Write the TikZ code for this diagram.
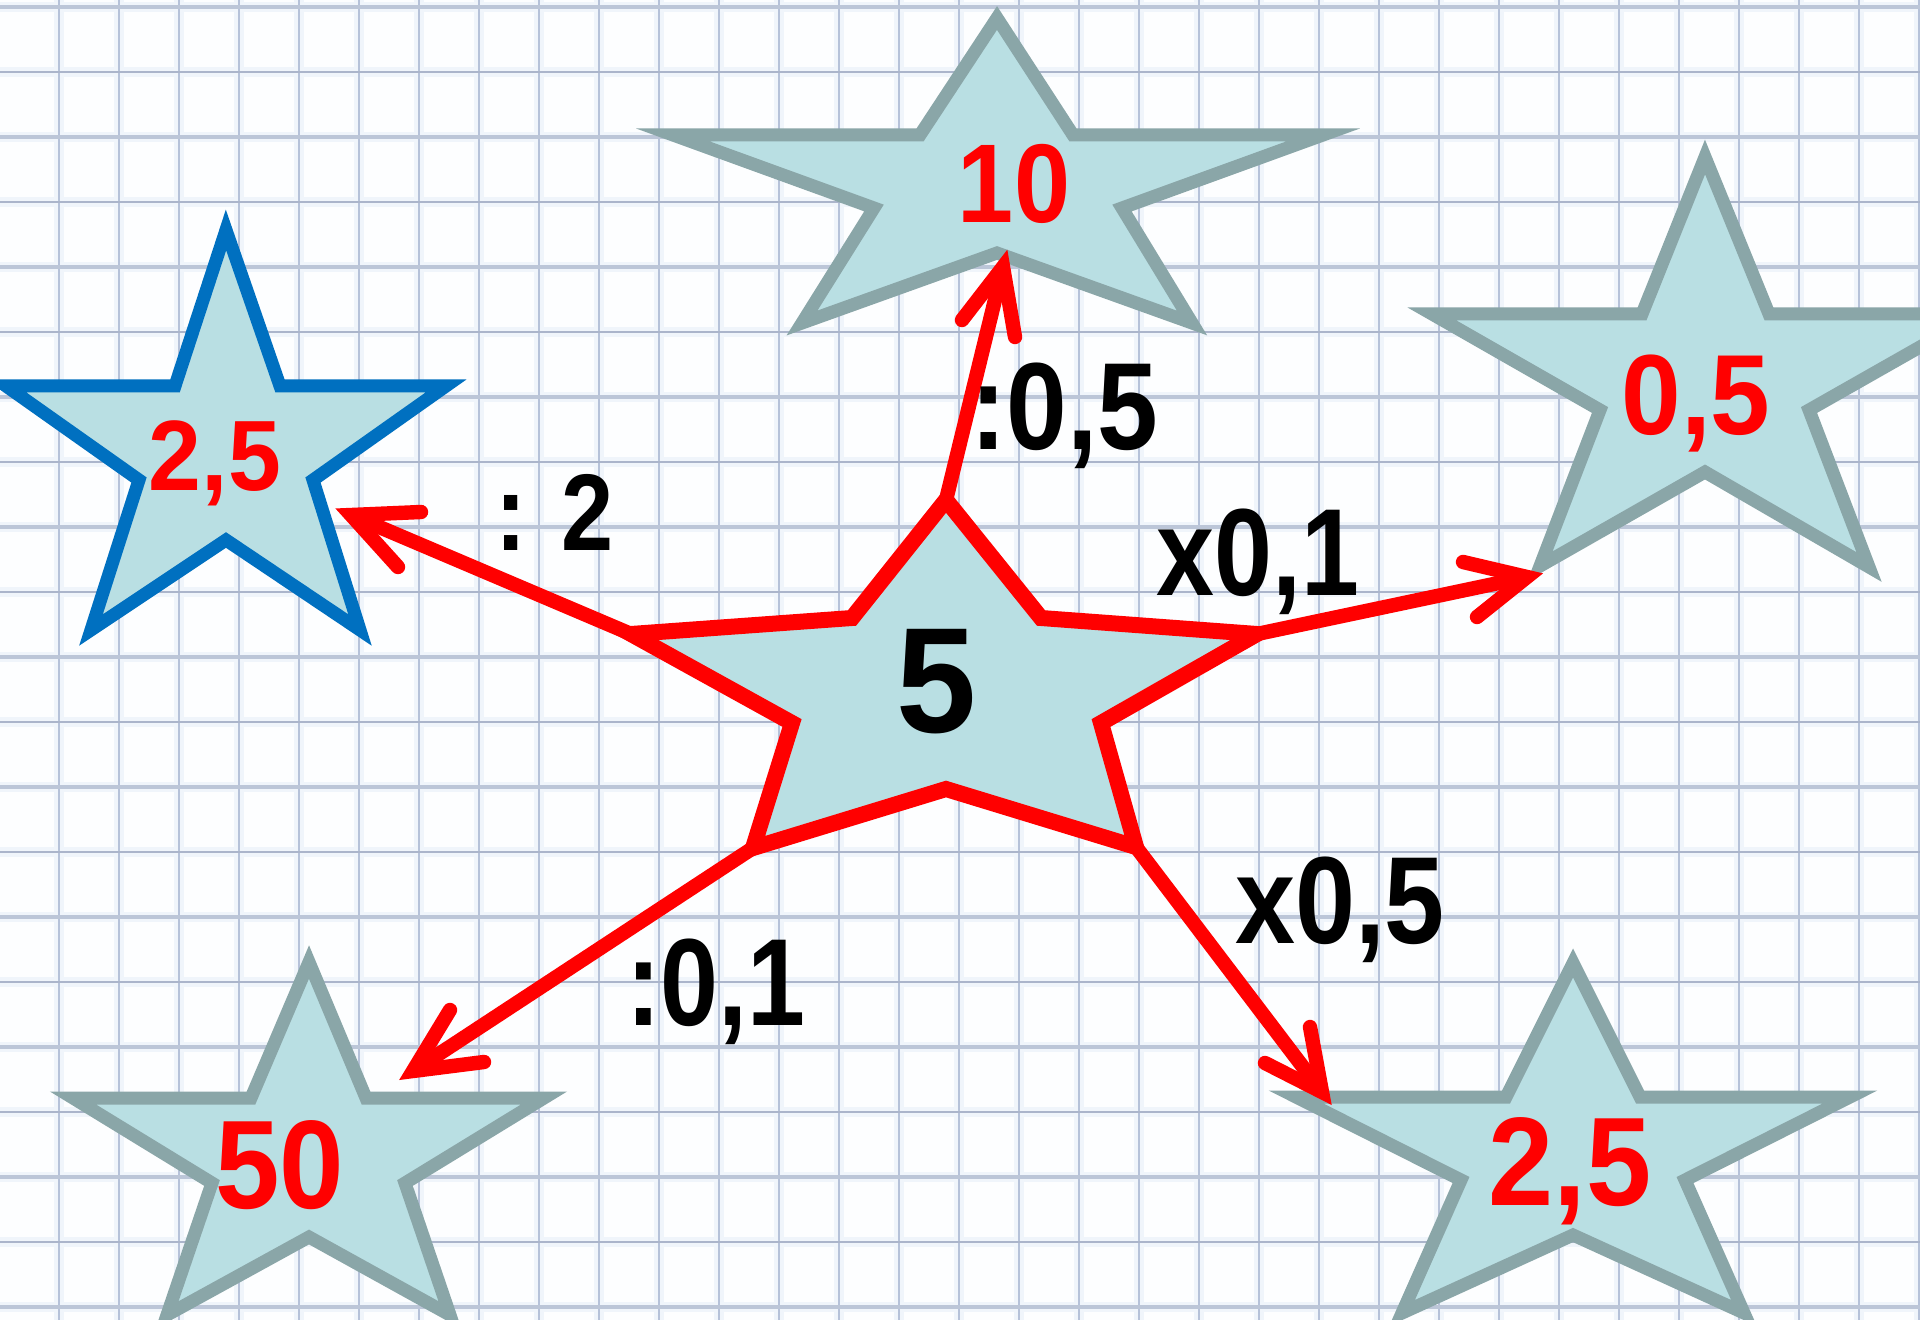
\documentclass[tikz,border=0pt]{standalone}
\usepackage{fontspec}
\setmainfont{Liberation Sans}
\definecolor{starfill}{HTML}{B9DFE3}
\definecolor{stargray}{HTML}{8AA6A8}
\definecolor{starblue}{HTML}{0070C0}
\definecolor{gridv}{HTML}{B6C2D9}
\definecolor{gridh}{HTML}{ABB5CB}
\definecolor{gridhk}{HTML}{BCC6D8}
\definecolor{gridhalo}{HTML}{F0F5FB}
\definecolor{paper}{HTML}{FDFEFF}
\newcommand{\sqz}[2]{\scalebox{#1}[1]{#2}}
\begin{document}
\begin{tikzpicture}[x=0.5pt,y=-0.5pt,
  gv/.style={draw=gridv,line width=1.1pt},
  ghthin/.style={draw=gridh,line width=1.1pt},
  ghthick/.style={draw=gridhk,line width=2.2pt},
  halo/.style={draw=gridhalo,line width=5pt},
  stargr/.style={draw=stargray,fill=starfill,line width=6.5pt,line join=miter,miter limit=20},
  starbl/.style={draw=starblue,fill=starfill,line width=6.5pt,line join=miter,miter limit=20},
  starrd/.style={draw=red,fill=starfill,line width=8pt,line join=miter,miter limit=20},
  shaft/.style={draw=red,line width=7.2pt,line cap=butt},
  head/.style={draw=red,line width=7.2pt,line cap=round,line join=miter,miter limit=20},
  lab/.style={inner sep=0pt,anchor=base,text=black},
  num/.style={inner sep=0pt,anchor=base,text=red}
]
\useasboundingbox (0,0) rectangle (1920,1320);
\clip (0,0) rectangle (1920,1320);
\fill[paper] (0,0) rectangle (1920,1320);
% grid halo
\foreach \k in {0,...,20} \draw[halo] (0,7+65*\k) -- (1920,7+65*\k);
\foreach \j in {0,...,31} \draw[halo] (59+60*\j,0) -- (59+60*\j,1320);
% vertical grid
\foreach \j in {0,...,31} \draw[gv] (59+60*\j,0) -- (59+60*\j,1320);
% horizontal grid
\foreach \k in {0,2,...,20} \draw[ghthick] (0,7+65*\k) -- (1920,7+65*\k);
\foreach \k in {1,3,...,19} \draw[ghthin] (0,7+65*\k) -- (1920,7+65*\k);

% ---------- star coordinates ----------
% centre star
\coordinate (C1) at (946,500);  \coordinate (C2) at (1041,618);
\coordinate (C3) at (1257,634); \coordinate (C4) at (1101,723);
\coordinate (C5) at (1136,847); \coordinate (C6) at (946,789);
\coordinate (C7) at (753,848);  \coordinate (C8) at (792,723);
\coordinate (C9) at (631,634);  \coordinate (C10) at (852,618);
% top star
\coordinate (T1) at (997,18);   \coordinate (T2) at (1073,135);
\coordinate (T3) at (1323,135); \coordinate (T4) at (1122,208);
\coordinate (T5) at (1192,323); \coordinate (T6) at (997,253);
\coordinate (T7) at (802,323);  \coordinate (T8) at (874,208);
\coordinate (T9) at (673,135);  \coordinate (T10) at (920,135);
% left star
\coordinate (L1) at (226,230);  \coordinate (L2) at (280,386);
\coordinate (L3) at (446,386);  \coordinate (L4) at (313,480);
\coordinate (L5) at (360,630);  \coordinate (L6) at (226,540);
\coordinate (L7) at (91,630);   \coordinate (L8) at (139,480);
\coordinate (L9) at (6,386);    \coordinate (L10) at (175,386);
% right star
\coordinate (R1) at (1705,157); \coordinate (R2) at (1769,314);
\coordinate (R3) at (1978,314); \coordinate (R4) at (1809,410);
\coordinate (R5) at (1869,567); \coordinate (R6) at (1705,472);
\coordinate (R7) at (1540,566); \coordinate (R8) at (1600,410);
\coordinate (R9) at (1432,314); \coordinate (R10) at (1642,314);
% bottom-left star
\coordinate (P1) at (309,962);  \coordinate (P2) at (366,1098);
\coordinate (P3) at (544,1098); \coordinate (P4) at (405,1183);
\coordinate (P5) at (450,1315); \coordinate (P6) at (309,1237);
\coordinate (P7) at (167,1315); \coordinate (P8) at (212,1183);
\coordinate (P9) at (73,1098);  \coordinate (P10) at (251,1098);
% bottom-right star
\coordinate (Q1) at (1573,963);  \coordinate (Q2) at (1640,1097);
\coordinate (Q3) at (1850,1097); \coordinate (Q4) at (1685,1180);
\coordinate (Q5) at (1744,1313); \coordinate (Q6) at (1573,1235);
\coordinate (Q7) at (1402,1313); \coordinate (Q8) at (1461,1180);
\coordinate (Q9) at (1296,1097); \coordinate (Q10) at (1506,1097);

% ---------- stars ----------
\draw[stargr] (T1)--(T2)--(T3)--(T4)--(T5)--(T6)--(T7)--(T8)--(T9)--(T10)--cycle;
\draw[starbl] (L1)--(L2)--(L3)--(L4)--(L5)--(L6)--(L7)--(L8)--(L9)--(L10)--cycle;
\draw[stargr] (R1)--(R2)--(R3)--(R4)--(R5)--(R6)--(R7)--(R8)--(R9)--(R10)--cycle;
\draw[stargr] (P1)--(P2)--(P3)--(P4)--(P5)--(P6)--(P7)--(P8)--(P9)--(P10)--cycle;
\draw[stargr] (Q1)--(Q2)--(Q3)--(Q4)--(Q5)--(Q6)--(Q7)--(Q8)--(Q9)--(Q10)--cycle;
\draw[starrd] (C1)--(C2)--(C3)--(C4)--(C5)--(C6)--(C7)--(C8)--(C9)--(C10)--cycle;

% ---------- arrow coordinates ----------
\coordinate (A1t) at (1003,267); \coordinate (A1a) at (962,320);  \coordinate (A1b) at (1015,337);
\coordinate (A2t) at (351,515);  \coordinate (A2a) at (421,512);  \coordinate (A2b) at (398,567);
\coordinate (A3t) at (1527,577); \coordinate (A3a) at (1463,562); \coordinate (A3b) at (1477,617);
\coordinate (A4t) at (413,1071); \coordinate (A4a) at (450,1010); \coordinate (A4b) at (484,1062);
\coordinate (A5t) at (1322,1092);\coordinate (A5a) at (1265,1063);\coordinate (A5b) at (1310,1027);

% ---------- arrows ----------
\draw[shaft] (C1) -- (A1t);  \draw[head] (A1a) -- (A1t) -- (A1b);
\draw[shaft] (C9) -- (A2t);  \draw[head] (A2a) -- (A2t) -- (A2b);
\draw[shaft] (C3) -- (A3t);  \draw[head] (A3a) -- (A3t) -- (A3b);
\draw[shaft] (C7) -- (A4t);  \draw[head] (A4a) -- (A4t) -- (A4b);
\draw[shaft] (C5) -- (A5t);  \draw[head] (A5a) -- (A5t) -- (A5b);

% ---------- numbers in stars ----------
\node[lab,font=\fontsize{75}{75}\selectfont\bfseries] (n5) at (937,732) {\sqz{0.96}{5}};
\node[num,font=\fontsize{56}{56}\selectfont\bfseries] (n10) at (1014,223) {\sqz{0.9}{10}};
\node[num,font=\fontsize{50}{50}\selectfont\bfseries] (nl) at (215,490) {\sqz{0.95}{2,5}};
\node[num,font=\fontsize{57}{57}\selectfont\bfseries] (nr) at (1696,435) {\sqz{0.94}{0,5}};
\node[num,font=\fontsize{63}{63}\selectfont\bfseries] (nbl) at (280,1208) {\sqz{0.92}{50}};
\node[num,font=\fontsize{63}{63}\selectfont\bfseries] (nbr) at (1570,1205) {\sqz{0.93}{2,5}};

% ---------- operation labels ----------
\node[lab,font=\fontsize{62}{62}\selectfont\bfseries] (o1) at (1064,450) {\sqz{0.88}{:0,5}};
\node[lab,font=\fontsize{54.5}{54.5}\selectfont\bfseries] (o2) at (555,550) {\sqz{0.86}{: 2}};
\node[lab,font=\fontsize{62}{62}\selectfont\bfseries] (o3) at (1258,595) {\sqz{0.84}{x0,1}};
\node[lab,font=\fontsize{62}{62}\selectfont\bfseries] (o4) at (1340,943) {\sqz{0.87}{x0,5}};
\node[lab,font=\fontsize{62}{62}\selectfont\bfseries] (o5) at (716,1025) {\sqz{0.84}{:0,1}};
\end{tikzpicture}
\end{document}
